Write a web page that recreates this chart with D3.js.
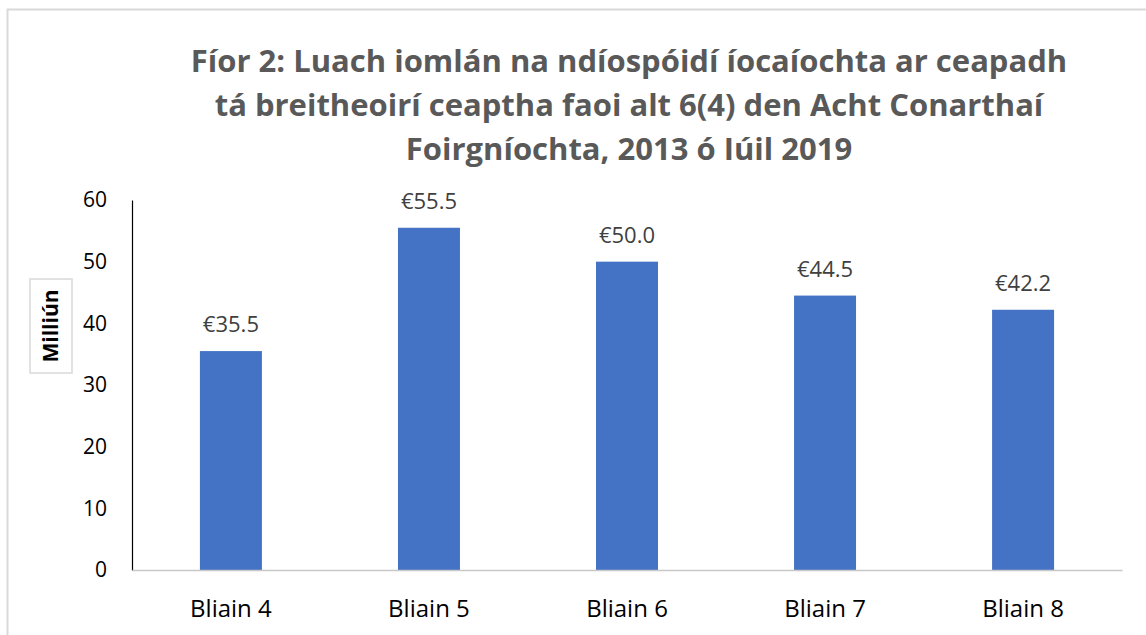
<!DOCTYPE html>
<html>
<head>
<meta charset="utf-8">
<script src="https://cdn.jsdelivr.net/npm/d3@7"></script>
<style>
  html, body { margin: 0; padding: 0; background: #fff; }
  svg { display: block; font-family: "Open Sans", "Liberation Sans", sans-serif; }
</style>
</head>
<body>
<svg id="chart"></svg>
<script>
// Bar chart — yearly totals (millions of euro)
const categories = ["Bliain 4", "Bliain 5", "Bliain 6", "Bliain 7", "Bliain 8"];
const values = [35.5, 55.5, 50.0, 44.5, 42.2];
const yTicks = [0, 10, 20, 30, 40, 50, 60];
const titleLines = [
  "Fíor 2: Luach iomlán na ndíospóidí íocaíochta ar ceapadh",
  "tá breitheoirí ceaptha faoi alt 6(4) den Acht Conarthaí",
  "Foirgníochta, 2013 ó Iúil 2019"
];
const yLabel = "Milliún";

const width = 1146, height = 635;
const margin = { left: 132, right: 24, top: 200, bottom: 65 };
const FONT = "'Open Sans', 'Liberation Sans', sans-serif";

const svg = d3.select("#chart").attr("width", width).attr("height", height);

// chart border
svg.append("rect")
  .attr("x", 7.5).attr("y", 9.5)
  .attr("width", width + 10).attr("height", height + 10)
  .attr("fill", "#fff")
  .attr("stroke", "#d9d9d9")
  .attr("stroke-width", 2);

const x = d3.scaleBand()
  .domain(categories)
  .range([margin.left, width - margin.right])
  .paddingInner(0.687)
  .paddingOuter(0.343);

const y = d3.scaleLinear()
  .domain([0, 60])
  .range([height - margin.bottom, margin.top]);

// title
svg.append("g")
  .selectAll("text")
  .data(titleLines)
  .join("text")
  .attr("x", 629)
  .attr("y", (d, i) => 72 + i * 44)
  .attr("text-anchor", "middle")
  .attr("font-size", 31)
  .attr("font-weight", "bold")
  .attr("fill", "#595959")
  .text(d => d);

// bars
svg.append("g")
  .selectAll("rect")
  .data(values)
  .join("rect")
  .attr("x", (d, i) => x(categories[i]))
  .attr("y", d => y(d))
  .attr("width", x.bandwidth())
  .attr("height", d => y(0) - y(d))
  .attr("fill", "#4472C4");

// value labels
svg.append("g")
  .selectAll("text")
  .data(values)
  .join("text")
  .attr("x", (d, i) => x(categories[i]) + x.bandwidth() / 2)
  .attr("y", d => y(d) - 19)
  .attr("text-anchor", "middle")
  .attr("font-size", 22)
  .attr("fill", "#404040")
  .text(d => "€" + d.toFixed(1));

// y axis
const yAxis = d3.axisLeft(y).tickValues(yTicks).tickSize(0).tickPadding(25);
svg.append("g")
  .attr("transform", `translate(${margin.left},0)`)
  .call(yAxis)
  .call(g => g.select(".domain").attr("stroke", "#000").attr("stroke-width", 1.2))
  .call(g => g.selectAll("text").attr("font-size", 21).attr("fill", "#000")
    .attr("font-family", FONT));

// x axis
const xAxis = d3.axisBottom(x).tickSize(0).tickPadding(0);
svg.append("g")
  .attr("transform", `translate(0,${y(0)})`)
  .call(xAxis)
  .call(g => g.select(".domain").attr("stroke", "#c8c8c8").attr("stroke-width", 1.5))
  .call(g => g.selectAll("text").attr("font-size", 24).attr("fill", "#000")
    .attr("font-family", FONT).attr("dy", null).attr("y", 47));

// y axis title in a box
const yl = svg.append("g").attr("transform", "translate(51,326) rotate(-90)");
yl.append("rect")
  .attr("x", -47).attr("y", -21)
  .attr("width", 94).attr("height", 42)
  .attr("fill", "#fff")
  .attr("stroke", "#d9d9d9")
  .attr("stroke-width", 1.5);
yl.append("text")
  .attr("text-anchor", "middle")
  .attr("dy", "0.35em")
  .attr("font-size", 21)
  .attr("font-weight", "bold")
  .attr("fill", "#000")
  .text(yLabel);
</script>
</body>
</html>
